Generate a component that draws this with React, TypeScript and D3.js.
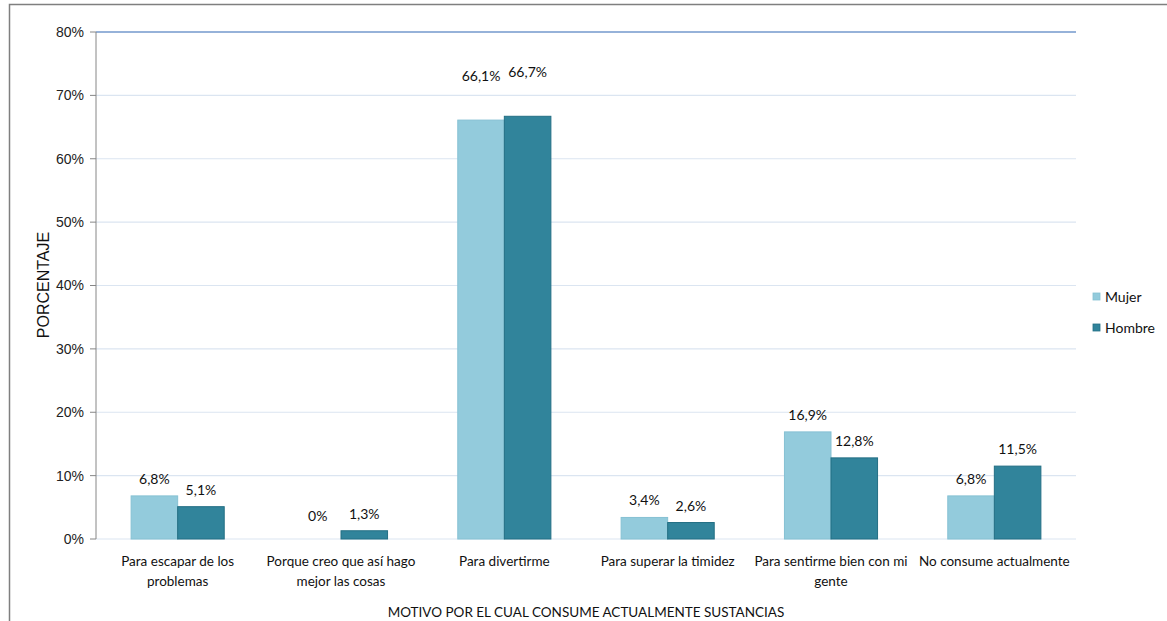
import React from "react";
import * as d3 from "d3";

const categories = [
  "Para escapar de los problemas",
  "Porque creo que así hago mejor las cosas",
  "Para divertirme",
  "Para superar la timidez",
  "Para sentirme bien con mi gente",
  "No consume actualmente",
];
const categoryLines = [
  ["Para escapar de los", "problemas"],
  ["Porque creo que así hago", "mejor las cosas"],
  ["Para divertirme"],
  ["Para superar la timidez"],
  ["Para sentirme bien con mi", "gente"],
  ["No consume actualmente"],
];
const seriesNames = ["Mujer", "Hombre"];
const mujer = [6.8, 0, 66.1, 3.4, 16.9, 6.8];
const hombre = [5.1, 1.3, 66.7, 2.6, 12.8, 11.5];
const yTicks = [0, 10, 20, 30, 40, 50, 60, 70, 80];

const W = 1167;
const H = 621;
const M = { left: 96, right: 1076, top: 32, bottom: 539 };
const COLORS = ["#93cbdc", "#31849b"];
const STROKES = ["#86c1d3", "#236f84"];
const LABEL_FONT = "Lato, 'Open Sans', sans-serif";
const AXIS_FONT = "'Liberation Sans', Arial, sans-serif";

const fmt = (v: number) => (v === 0 ? "0%" : v.toFixed(1).replace(".", ",") + "%");

export default function App() {
  const x0 = d3.scaleBand<string>().domain(categories).range([M.left, M.right]).paddingInner(0.43).paddingOuter(0.215);
  const x1 = d3.scaleBand<string>().domain(seriesNames).range([0, x0.bandwidth()]);
  const y = d3.scaleLinear().domain([0, 80]).range([M.bottom, M.top]);
  const series = [mujer, hombre];
  // the tall pair of labels sits higher above its bars
  const extraLift: Record<string, number> = { "Para divertirme": 27 };

  return (
    <svg
      width={W}
      height={H}
      style={{ position: "absolute", left: 0, top: 0, background: "#fff" }}
    >
      <rect x={9.5} y={4.5} width={W + 10} height={H + 10} fill="#fff" stroke="#7f7f7f" strokeWidth={1.5} />
      {yTicks.map((t) => (
        <g key={t}>
          <line
            x1={M.left}
            x2={M.right}
            y1={y(t)}
            y2={y(t)}
            stroke={t === 80 ? "#7398cc" : "#dbe5f1"}
            strokeWidth={t === 80 ? 1.5 : 1.2}
          />
          <line x1={M.left - 6} x2={M.left} y1={y(t)} y2={y(t)} stroke="#868686" />
          <text x={M.left - 12} y={y(t)} dy="0.35em" textAnchor="end" fontFamily={AXIS_FONT} fontSize={14} fill="#222">
            {t}%
          </text>
        </g>
      ))}
      <line x1={M.left} x2={M.left} y1={M.top} y2={M.bottom} stroke="#868686" />
      {categories.map((c, i) => (
        <g key={c}>
          {series.map((vals, s) => {
            const bx = (x0(c) as number) + (x1(seriesNames[s]) as number);
            const v = vals[i];
            const top = y(v);
            return (
              <g key={s}>
                {v > 0 && (
                  <rect
                    x={bx}
                    y={top}
                    width={x1.bandwidth()}
                    height={M.bottom - top}
                    fill={COLORS[s]}
                    stroke={STROKES[s]}
                    strokeWidth={1}
                  />
                )}
                <text
                  x={bx + x1.bandwidth() / 2}
                  y={top - 12 - (extraLift[c] || 0) - (v === 0 ? 6 : 0)}
                  textAnchor="middle"
                  fontFamily={LABEL_FONT}
                  fontSize={14}
                  fill="#111"
                >
                  {fmt(v)}
                </text>
              </g>
            );
          })}
          {categoryLines[i].map((ln, k) => (
            <text
              key={k}
              x={(x0(c) as number) + x0.bandwidth() / 2}
              y={566 + k * 20}
              textAnchor="middle"
              fontFamily={LABEL_FONT}
              fontSize={13.5}
              fill="#111"
            >
              {ln}
            </text>
          ))}
        </g>
      ))}
      <text
        transform={`translate(49,285) rotate(-90)`}
        textAnchor="middle"
        fontFamily={AXIS_FONT}
        fontSize={16}
        fill="#111"
      >
        PORCENTAJE
      </text>
      <text x={(M.left + M.right) / 2} y={617} textAnchor="middle" fontFamily={LABEL_FONT} fontSize={13.5} fill="#111">
        MOTIVO POR EL CUAL CONSUME ACTUALMENTE SUSTANCIAS
      </text>
      {seriesNames.map((n, s) => (
        <g key={n} transform={`translate(1093,${293 + s * 31})`}>
          <rect x={0} y={0} width={7} height={7} fill={COLORS[s]} stroke={STROKES[s]} strokeWidth={0.8} />
          <text x={12} y={4} dy="0.35em" fontFamily={LABEL_FONT} fontSize={14} fill="#111">
            {n}
          </text>
        </g>
      ))}
    </svg>
  );
}
